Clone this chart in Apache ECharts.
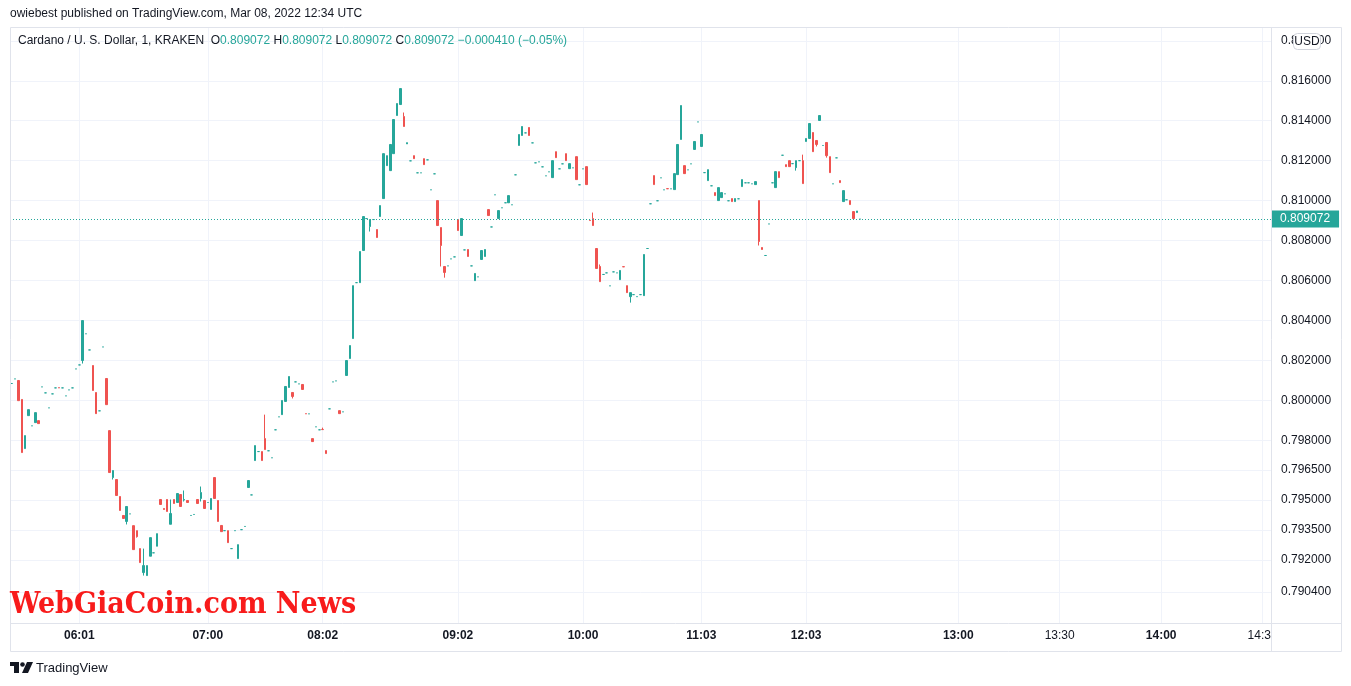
<!DOCTYPE html>
<html><head><meta charset="utf-8">
<script src="https://cdn.jsdelivr.net/npm/echarts@6/dist/echarts.min.js"></script>
<style>html,body{margin:0;padding:0;background:#fff}#c{width:1351px;height:686px}</style>
</head><body><div id="c"></div>
<script>
// ---- data (ADA/USD, 1 minute, KRAKEN) ----
const opens = [
0.80084,0.80107,0.80099,0.80004,0.79758,0.79923,0.79872,0.79888,0.79898,0.80067,
0.80037,0.79962,0.80032,0.80062,0.80063,0.80062,0.80022,0.80052,0.80062,0.80157,
0.80177,0.80199,0.80333,0.80252,0.80174,0.80039,0.79947,0.80267,0.80109,0.79848,
0.79613,0.79603,0.79518,0.79423,0.79393,0.79431,0.79372,0.79347,0.79257,0.79137,
0.79122,0.79219,0.79236,0.79269,0.79503,0.79458,0.79503,0.79379,0.79503,0.79488,
0.79528,0.79500,0.79498,0.79423,0.79428,0.79503,0.79508,0.79498,0.79488,0.79453,
0.79613,0.79498,0.79373,0.79347,0.79347,0.79257,0.79347,0.79207,0.79352,0.79368,
0.79563,0.79526,0.79698,0.79743,0.79743,0.79808,0.79747,0.79712,0.79852,0.79917,
0.79928,0.79994,0.80064,0.80039,0.80092,0.80082,0.80079,0.79933,0.79932,0.79808,
0.79867,0.79852,0.79854,0.79748,0.79957,0.80092,0.80097,0.79948,0.79942,0.80124,
0.80209,0.80309,0.80589,0.80589,0.80750,0.80910,0.80870,0.80905,0.80855,0.80920,
0.81010,0.81175,0.81150,0.81235,0.81426,0.81481,0.81421,0.81284,0.81199,0.81225,
0.81139,0.81139,0.81210,0.81204,0.81054,0.81134,0.81000,0.80865,0.80670,0.80673,
0.80708,0.80718,0.80905,0.80825,0.80753,0.80755,0.80673,0.80599,0.80618,0.80705,
0.80720,0.80955,0.80868,0.81029,0.80910,0.80964,0.80989,0.80989,0.80979,0.81129,
0.81276,0.81326,0.81339,0.81366,0.81289,0.81189,0.81194,0.81169,0.81124,0.81144,
0.81115,0.81245,0.81159,0.81184,0.81235,0.81160,0.81164,0.81220,0.81079,0.81159,
0.81170,0.80901,0.80910,0.80760,0.80670,0.80630,0.80638,0.80573,0.80643,0.80638,
0.80604,0.80669,0.80574,0.80519,0.80529,0.80519,0.80529,0.80524,0.80760,0.80984,
0.81125,0.80999,0.81114,0.81054,0.81060,0.81059,0.81055,0.81130,0.81306,0.81175,
0.81154,0.81184,0.81256,0.81394,0.81271,0.81140,0.81100,0.81074,0.81040,0.81000,
0.81015,0.81034,0.80999,0.81010,0.80995,0.81009,0.81070,0.81089,0.81089,0.81084,
0.81080,0.81000,0.80765,0.80725,0.80883,0.81089,0.81065,0.81145,0.81227,0.81180,
0.81200,0.81185,0.81165,0.81200,0.81200,0.81296,0.81311,0.81341,0.81301,0.81401,
0.81276,0.81291,0.81220,0.81084,0.81214,0.81100,0.80995,0.81004,0.81000,0.80945,
0.80940,0.809072];
const closes = [
0.80084,0.80107,0.79998,0.79738,0.79823,0.79953,0.79872,0.79938,0.79883,0.80067,
0.80037,0.79962,0.80032,0.80062,0.80062,0.80062,0.80022,0.80052,0.80062,0.80157,
0.80177,0.80399,0.80333,0.80252,0.80049,0.79933,0.79947,0.80267,0.79978,0.79638,
0.79648,0.79523,0.79448,0.79408,0.79468,0.79431,0.79252,0.79317,0.79187,0.79172,
0.79172,0.79312,0.79236,0.79332,0.79478,0.79453,0.79443,0.79433,0.79483,0.79533,
0.79468,0.79503,0.79488,0.79423,0.79428,0.79483,0.79538,0.79458,0.79488,0.79508,
0.79508,0.79393,0.79342,0.79347,0.79287,0.79257,0.79347,0.79277,0.79352,0.79368,
0.79598,0.79526,0.79773,0.79743,0.79698,0.79753,0.79747,0.79712,0.79852,0.79917,
0.79999,0.80069,0.80119,0.80019,0.80092,0.80082,0.80054,0.79932,0.79932,0.79793,
0.79867,0.79852,0.79853,0.79733,0.79957,0.80092,0.80097,0.79933,0.79942,0.80199,
0.80274,0.80574,0.80589,0.80745,0.80920,0.80910,0.80905,0.80905,0.80815,0.80975,
0.81235,0.81225,0.81281,0.81406,0.81486,0.81561,0.81371,0.81290,0.81199,0.81210,
0.81139,0.81139,0.81180,0.81204,0.81054,0.81134,0.80875,0.80775,0.80640,0.80673,
0.80708,0.80718,0.80850,0.80910,0.80753,0.80720,0.80673,0.80635,0.80618,0.80750,
0.80755,0.80925,0.80868,0.81029,0.80950,0.80964,0.80989,0.81025,0.80979,0.81129,
0.81331,0.81371,0.81339,0.81326,0.81289,0.81189,0.81194,0.81169,0.81124,0.81144,
0.81200,0.81215,0.81159,0.81184,0.81200,0.81185,0.81164,0.81105,0.81079,0.81159,
0.81080,0.80900,0.80875,0.80660,0.80594,0.80630,0.80638,0.80573,0.80643,0.80638,
0.80650,0.80668,0.80539,0.80539,0.80529,0.80519,0.80529,0.80730,0.80760,0.80984,
0.81080,0.80999,0.81114,0.81054,0.81059,0.81059,0.81135,0.81281,0.81476,0.81135,
0.81154,0.81184,0.81296,0.81394,0.81331,0.81140,0.81155,0.81074,0.81025,0.81065,
0.81040,0.81034,0.80999,0.80995,0.81010,0.81009,0.81105,0.81089,0.81089,0.81084,
0.81095,0.80795,0.80755,0.80725,0.80883,0.81089,0.81145,0.81115,0.81227,0.81170,
0.81170,0.81185,0.81200,0.81200,0.81085,0.81311,0.81386,0.81245,0.81281,0.81426,
0.81276,0.81225,0.81140,0.81084,0.81214,0.81090,0.81050,0.81004,0.80980,0.80910,
0.80948,0.809072];
// wicks that reach beyond the candle body: [bar index, price]
const wickLows = [[21,0.80184],[30,0.79603],[34,0.79378],[37,0.79312],[39,0.79122],[51,0.79493],
  [56,0.79493],[83,0.80009],[106,0.80845],[127,0.80670],[128,0.80614],[183,0.80489],
  [221,0.80775],[232,0.81150],[238,0.81271],[241,0.81215]];
const wickHighs = [[39,0.79257],[47,0.79503],[51,0.79548],[56,0.79568],[75,0.79928],[92,0.79863],
  [116,0.81441],[172,0.80940],[174,0.80680],[234,0.81230]];
const slotCount = 373; // bars on the time scale incl. empty future slots
// time axis labels: [bar index, label, hour mark]
const timeTicks = [[20,'06:01',true],[58,'07:00',true],[92,'08:02',true],[132,'09:02',true],
  [169,'10:00',true],[204,'11:03',true],[235,'12:03',true],[280,'13:00',true],
  [310,'13:30',false],[340,'14:00',true],[370,'14:30',false]];
const priceTicks = [0.7904,0.792,0.7935,0.795,0.7965,0.798,0.800,0.802,0.804,0.806,0.808,0.810,0.812,0.814,0.816,0.818];
const priceMin = 0.788845, priceMax = 0.818693;
const lastPrice = 0.809072;
const change = '\u22120.000410 (\u22120.05%)';

const UP = '#26a69a', DOWN = '#ef5350', TXT = '#131722', GRID = '#f0f3fa', BORDER = '#e0e3eb';
const FONT = 'Liberation Sans';

const lowMap = new Map(wickLows), highMap = new Map(wickHighs);
const candles = opens.map((o, i) => {
  const c = closes[i];
  const lo = lowMap.has(i) ? lowMap.get(i) : Math.min(o, c);
  const hi = highMap.has(i) ? highMap.get(i) : Math.max(o, c);
  const item = { value: [o, c, lo, hi] };
  if (o === c) item.itemStyle = { color: UP, borderColor: UP };
  return item;
});
const cats = Array.from({ length: slotCount }, (_, i) => String(i));
const tickMap = new Map(timeTicks.map(t => [t[0], t]));
const showTick = (i) => tickMap.has(i);

const chart = echarts.init(document.getElementById('c'), null, { renderer: 'canvas' });
const p = lastPrice.toFixed(6);
chart.setOption({
  animation: false,
  backgroundColor: '#ffffff',
  grid: { left: 10, right: 80, top: 27, bottom: 63 },
  xAxis: {
    type: 'category', data: cats, boundaryGap: true,
    axisLine: { show: false },
    axisTick: { show: false, interval: showTick, alignWithLabel: true },
    axisLabel: {
      interval: showTick, margin: 7, fontFamily: FONT, fontSize: 12, color: TXT,
      formatter: (v, i) => { const t = tickMap.get(i); return t ? (t[2] ? '{b|' + t[1] + '}' : '{n|' + t[1] + '}') : ''; },
      rich: { b: { fontWeight: 'bold', fontFamily: FONT, fontSize: 12, color: TXT },
              n: { fontWeight: 'normal', fontFamily: FONT, fontSize: 12, color: TXT } }
    },
    splitLine: { show: true, interval: showTick, alignWithLabel: true, lineStyle: { color: GRID, width: 1 } }
  },
  yAxis: {
    type: 'value', position: 'right', min: priceMin, max: priceMax, scale: true,
    axisLine: { show: false },
    axisTick: { show: false, customValues: priceTicks },
    axisLabel: { customValues: priceTicks, formatter: v => v.toFixed(6), margin: 10, color: TXT, fontSize: 12, fontFamily: FONT },
    splitLine: { show: true, lineStyle: { color: GRID, width: 1 } }
  },
  series: [{
    type: 'candlestick', data: candles, barWidth: 2,
    itemStyle: { color: UP, color0: DOWN, borderColor: UP, borderColor0: DOWN, borderWidth: 1 },
    emphasis: { disabled: true },
    markLine: {
      silent: true, animation: false, symbol: ['none', 'none'], precision: 6,
      data: [{ yAxis: lastPrice }],
      lineStyle: { type: [1, 2], color: UP, width: 1 },
      label: { show: true, position: 'end', distance: 0, formatter: p, color: '#fff',
               backgroundColor: UP, padding: [3, 9, 2, 9], fontSize: 12, fontFamily: FONT }
    }
  }],
  graphic: [
    { type: 'rect', z: 90, shape: { x: 1272, y: 624, width: 69, height: 27 }, style: { fill: '#fff' } },
    { type: 'rect', z: 95, shape: { x: 10.5, y: 27.5, width: 1331, height: 624 }, style: { fill: 'none', stroke: BORDER, lineWidth: 1 } },
    { type: 'line', z: 95, shape: { x1: 1271.5, y1: 27, x2: 1271.5, y2: 652 }, style: { stroke: BORDER, lineWidth: 1 } },
    { type: 'line', z: 95, shape: { x1: 10, y1: 623.5, x2: 1341, y2: 623.5 }, style: { stroke: BORDER, lineWidth: 1 } },
    { type: 'text', z: 96, x: 10, y: 14, style: { text: 'owiebest published on TradingView.com, Mar 08, 2022 12:34 UTC', fill: TXT, font: '12px "' + FONT + '"', verticalAlign: 'middle' } },
    { type: 'text', z: 96, x: 18, y: 41, style: {
        text: '{d|Cardano / U. S. Dollar, 1, KRAKEN}  {d|O}{g|' + p + '} {d|H}{g|' + p + '} {d|L}{g|' + p + '} {d|C}{g|' + p + '} {g|' + change + '}',
        font: '12px "' + FONT + '"', verticalAlign: 'middle',
        rich: { d: { fill: TXT, font: '12px "' + FONT + '"' }, g: { fill: UP, font: '12px "' + FONT + '"' } } } },
    { type: 'rect', z: 96, shape: { x: 1293.5, y: 33.5, width: 27, height: 16, r: 4 }, style: { fill: '#fff', stroke: '#d1d4dc', lineWidth: 1 } },
    { type: 'text', z: 97, x: 1307, y: 42, style: { text: 'USD', fill: TXT, font: '12px "' + FONT + '"', align: 'center', verticalAlign: 'middle' } },
    { type: 'text', z: 96, x: 10, y: 605, style: { text: 'WebGiaCoin.com News', fill: '#f81b1b', font: 'bold 30px "DejaVu Serif Condensed"', verticalAlign: 'middle' } },
    { type: 'rect', z: 96, shape: { x: 10, y: 662, width: 9, height: 4 }, style: { fill: TXT } },
    { type: 'rect', z: 96, shape: { x: 14, y: 662, width: 5, height: 11 }, style: { fill: TXT } },
    { type: 'circle', z: 96, shape: { cx: 22.5, cy: 664.5, r: 2.3 }, style: { fill: TXT } },
    { type: 'polygon', z: 96, shape: { points: [[27, 662], [33, 662], [28, 673], [22, 673]] }, style: { fill: TXT } },
    { type: 'text', z: 96, x: 36, y: 668, style: { text: 'TradingView', fill: TXT, font: '13px "' + FONT + '"', verticalAlign: 'middle' } }
  ]
});
</script></body></html>
